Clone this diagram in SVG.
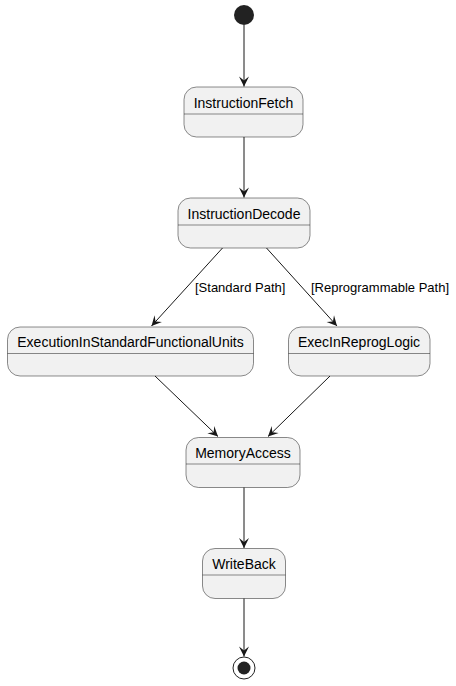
<svg xmlns="http://www.w3.org/2000/svg" width="456" height="686" viewBox="0 0 456 686">
<defs>
<style>
.st rect{fill:#F1F1F1;stroke:#181818;stroke-width:0.5}
.st line{stroke:#181818;stroke-width:0.5}
.t{font-family:"Liberation Sans",Arial,sans-serif;font-size:14px;fill:#000;text-anchor:middle}
.lb{font-family:"Liberation Sans",Arial,sans-serif;font-size:13px;fill:#000}
.c line{stroke:#181818;stroke-width:1;marker-end:url(#ah)}
</style>
<marker id="ah" viewBox="-11 -6 12 12" refX="0" refY="0" markerWidth="12" markerHeight="12" markerUnits="userSpaceOnUse" orient="auto">
<path d="M0,0 L-10,-5 L-6,0 L-10,5 Z" fill="#181818"/>
</marker>
</defs>
<rect width="456" height="686" fill="#FFFFFF"/>
<g id="start"><circle cx="244" cy="15" r="10" fill="#222222"/></g>
<g id="InstructionFetch" class="st"><rect x="184" y="87" width="119" height="50" rx="12.5"/><line x1="184" y1="114" x2="303" y2="114"/><text class="t" x="243.5" y="108">InstructionFetch</text></g>
<g id="InstructionDecode" class="st"><rect x="178" y="198" width="132" height="50" rx="12.5"/><line x1="178" y1="225" x2="310" y2="225"/><text class="t" x="244" y="219">InstructionDecode</text></g>
<g id="ExecutionInStandardFunctionalUnits" class="st"><rect x="7.5" y="327" width="246" height="49" rx="12.5"/><line x1="7.5" y1="353.5" x2="253.5" y2="353.5"/><text class="t" x="130.5" y="347">ExecutionInStandardFunctionalUnits</text></g>
<g id="ExecInReprogLogic" class="st"><rect x="288.5" y="327" width="141.5" height="49" rx="12.5"/><line x1="288.5" y1="353.5" x2="430" y2="353.5"/><text class="t" x="359" y="347">ExecInReprogLogic</text></g>
<g id="MemoryAccess" class="st"><rect x="186" y="437.5" width="114" height="50" rx="12.5"/><line x1="186" y1="464" x2="300" y2="464"/><text class="t" x="243" y="458">MemoryAccess</text></g>
<g id="WriteBack" class="st"><rect x="202.5" y="548.5" width="83" height="50" rx="12.5"/><line x1="202.5" y1="575" x2="285.5" y2="575"/><text class="t" x="244" y="569">WriteBack</text></g>
<g id="end"><circle cx="244" cy="668" r="11" fill="none" stroke="#222222" stroke-width="1"/><circle cx="244" cy="668" r="6.5" fill="#222222"/></g>
<g id="connectors" class="c">
<line x1="244" y1="25" x2="244" y2="86.5"/>
<line x1="244" y1="137" x2="244" y2="197.5"/>
<line x1="222.5" y1="248" x2="151.5" y2="326"/>
<line x1="266.5" y1="248" x2="337" y2="326"/>
<line x1="155" y1="376" x2="218" y2="436.5"/>
<line x1="330" y1="376" x2="268" y2="436.5"/>
<line x1="244" y1="487.5" x2="244" y2="548"/>
<line x1="244" y1="598.5" x2="244" y2="656.5"/>
<text class="lb" x="195" y="292">[Standard Path]</text>
<text class="lb" x="311" y="292">[Reprogrammable Path]</text>
</g>
</svg>
